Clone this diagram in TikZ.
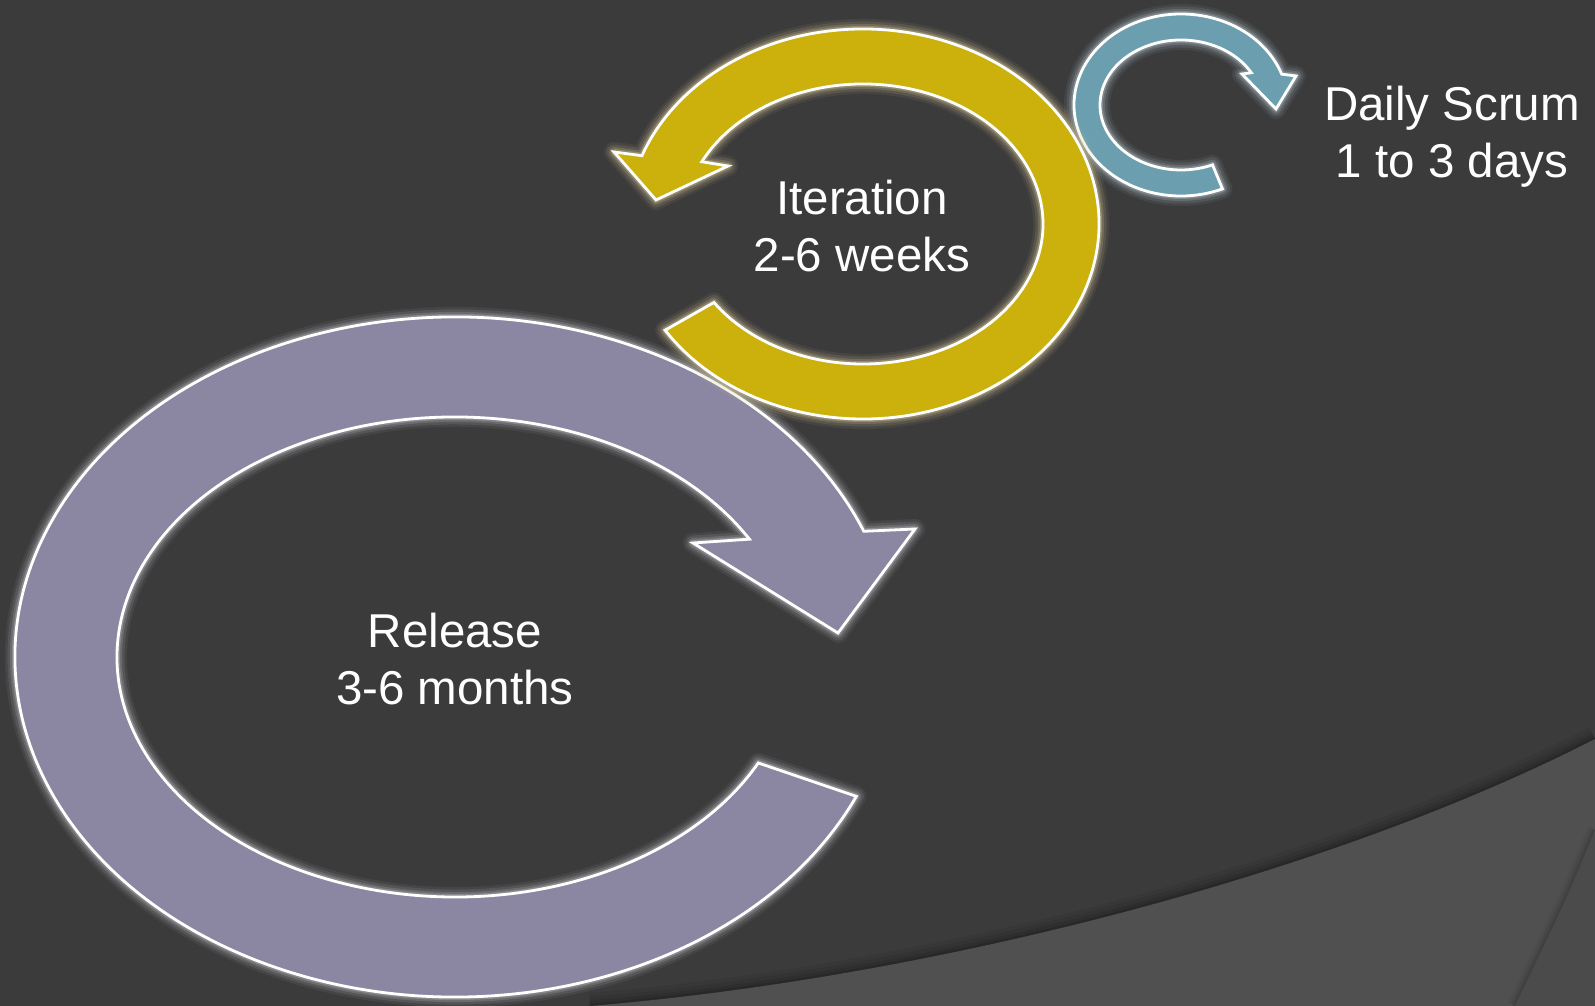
\documentclass[tikz,border=0pt]{standalone}
\usepackage{fontspec}
\setmainfont{Liberation Sans}
\usetikzlibrary{calc}

\definecolor{bgdark}{HTML}{3B3B3B}
\definecolor{bglight}{HTML}{505050}
\definecolor{bgright}{HTML}{4B4B4B}
\definecolor{releasefill}{HTML}{8B87A3}
\definecolor{iterfill}{HTML}{CCB00C}
\definecolor{scrumfill}{HTML}{6B9FB0}
\definecolor{releaseglow}{HTML}{C4C4CA}
\definecolor{iterglow}{HTML}{D6C696}
\definecolor{scrumglow}{HTML}{B4C6CC}

\begin{document}
\begin{tikzpicture}[x=1pt,y=1pt,
  cycle label/.style={text=white, align=center, inner sep=0pt,
    font=\fontsize{47.5}{57}\selectfont},
  cycle body/.style={draw=white, line width=2.8pt, line join=miter, miter limit=10},
  % release cycle: large ring, head at upper right
  release shape/.style={insert path={
    (455,349) ++(-24.2:440 and 340)
    arc[start angle=-24.2, end angle=-338.3, x radius=440, y radius=340]
    -- (915,477) -- (838,373) -- (693,463)
    -- ($(455,349)+(-330.6:338 and 240)$)
    arc[start angle=-330.6, end angle=-26.2, x radius=338, y radius=240]
    -- cycle}},
  % iteration cycle: middle ring, head at upper left
  iteration shape/.style={insert path={
    (863,782) ++(-147:236 and 195)
    arc[start angle=-147, end angle=159.5, x radius=236, y radius=195]
    -- (614,854) -- (656,806) -- (728,840)
    -- ($(863,782)+(153.6:180 and 140)$)
    arc[start angle=153.6, end angle=-145.9, x radius=180, y radius=140]
    -- cycle}},
  % daily cycle: small ring, head at upper right
  scrum shape/.style={insert path={
    (1181,901) ++(-67.2:107 and 91)
    arc[start angle=-67.2, end angle=-340.2, x radius=107, y radius=91]
    -- (1296,930) -- (1276,897) -- (1242,932)
    -- ($(1181,901)+(-330.3:81 and 65)$)
    arc[start angle=-330.3, end angle=-67.1, x radius=81, y radius=65]
    -- cycle}},
]

\useasboundingbox (0,0) rectangle (1595,1006);
\clip (0,0) rectangle (1595,1006);

% backdrop
\fill[bgdark] (0,0) rectangle (1595,1006);
\foreach \w/\o in {26/0.05, 18/0.07, 11/0.09, 5/0.12}
  \draw[black, line width=\w pt, opacity=\o]
    (590,0) .. controls (930,28) and (1330,131) .. (1595,267);
\fill[bglight] (590,0) .. controls (930,28) and (1330,131) .. (1595,267)
  -- (1595,0) -- cycle;
\foreach \w/\o in {16/0.04, 10/0.06, 5/0.08}
  \draw[black, line width=\w pt, opacity=\o]
    (1595,176) .. controls (1568,110) .. (1515,0);
\fill[bgright] (1595,176) .. controls (1568,110) .. (1515,0) -- (1595,0) -- cycle;

% release ring
\foreach \w/\o in {20/0.08, 15/0.13, 10/0.2, 6/0.34}
  \draw[releaseglow, line width=\w pt, opacity=\o, line join=round, release shape];
\path[cycle body, fill=releasefill, release shape];

% daily ring
\foreach \w/\o in {20/0.08, 15/0.13, 10/0.2, 6/0.34}
  \draw[scrumglow, line width=\w pt, opacity=\o, line join=round, scrum shape];
\path[cycle body, fill=scrumfill, scrum shape];

% iteration ring
\foreach \w/\o in {20/0.08, 15/0.13, 10/0.2, 6/0.34}
  \draw[iterglow, line width=\w pt, opacity=\o, line join=round, iteration shape];
\path[cycle body, fill=iterfill, iteration shape];

% labels
\node[cycle label] (release) at (455,347) {Release\\3-6 months};
\node[cycle label] (iteration) at (862,780) {Iteration\\2-6 weeks};
\node[cycle label] (daily) at (1452,869) {Daily Scrum\\1 to 3 days};

\end{tikzpicture}
\end{document}
